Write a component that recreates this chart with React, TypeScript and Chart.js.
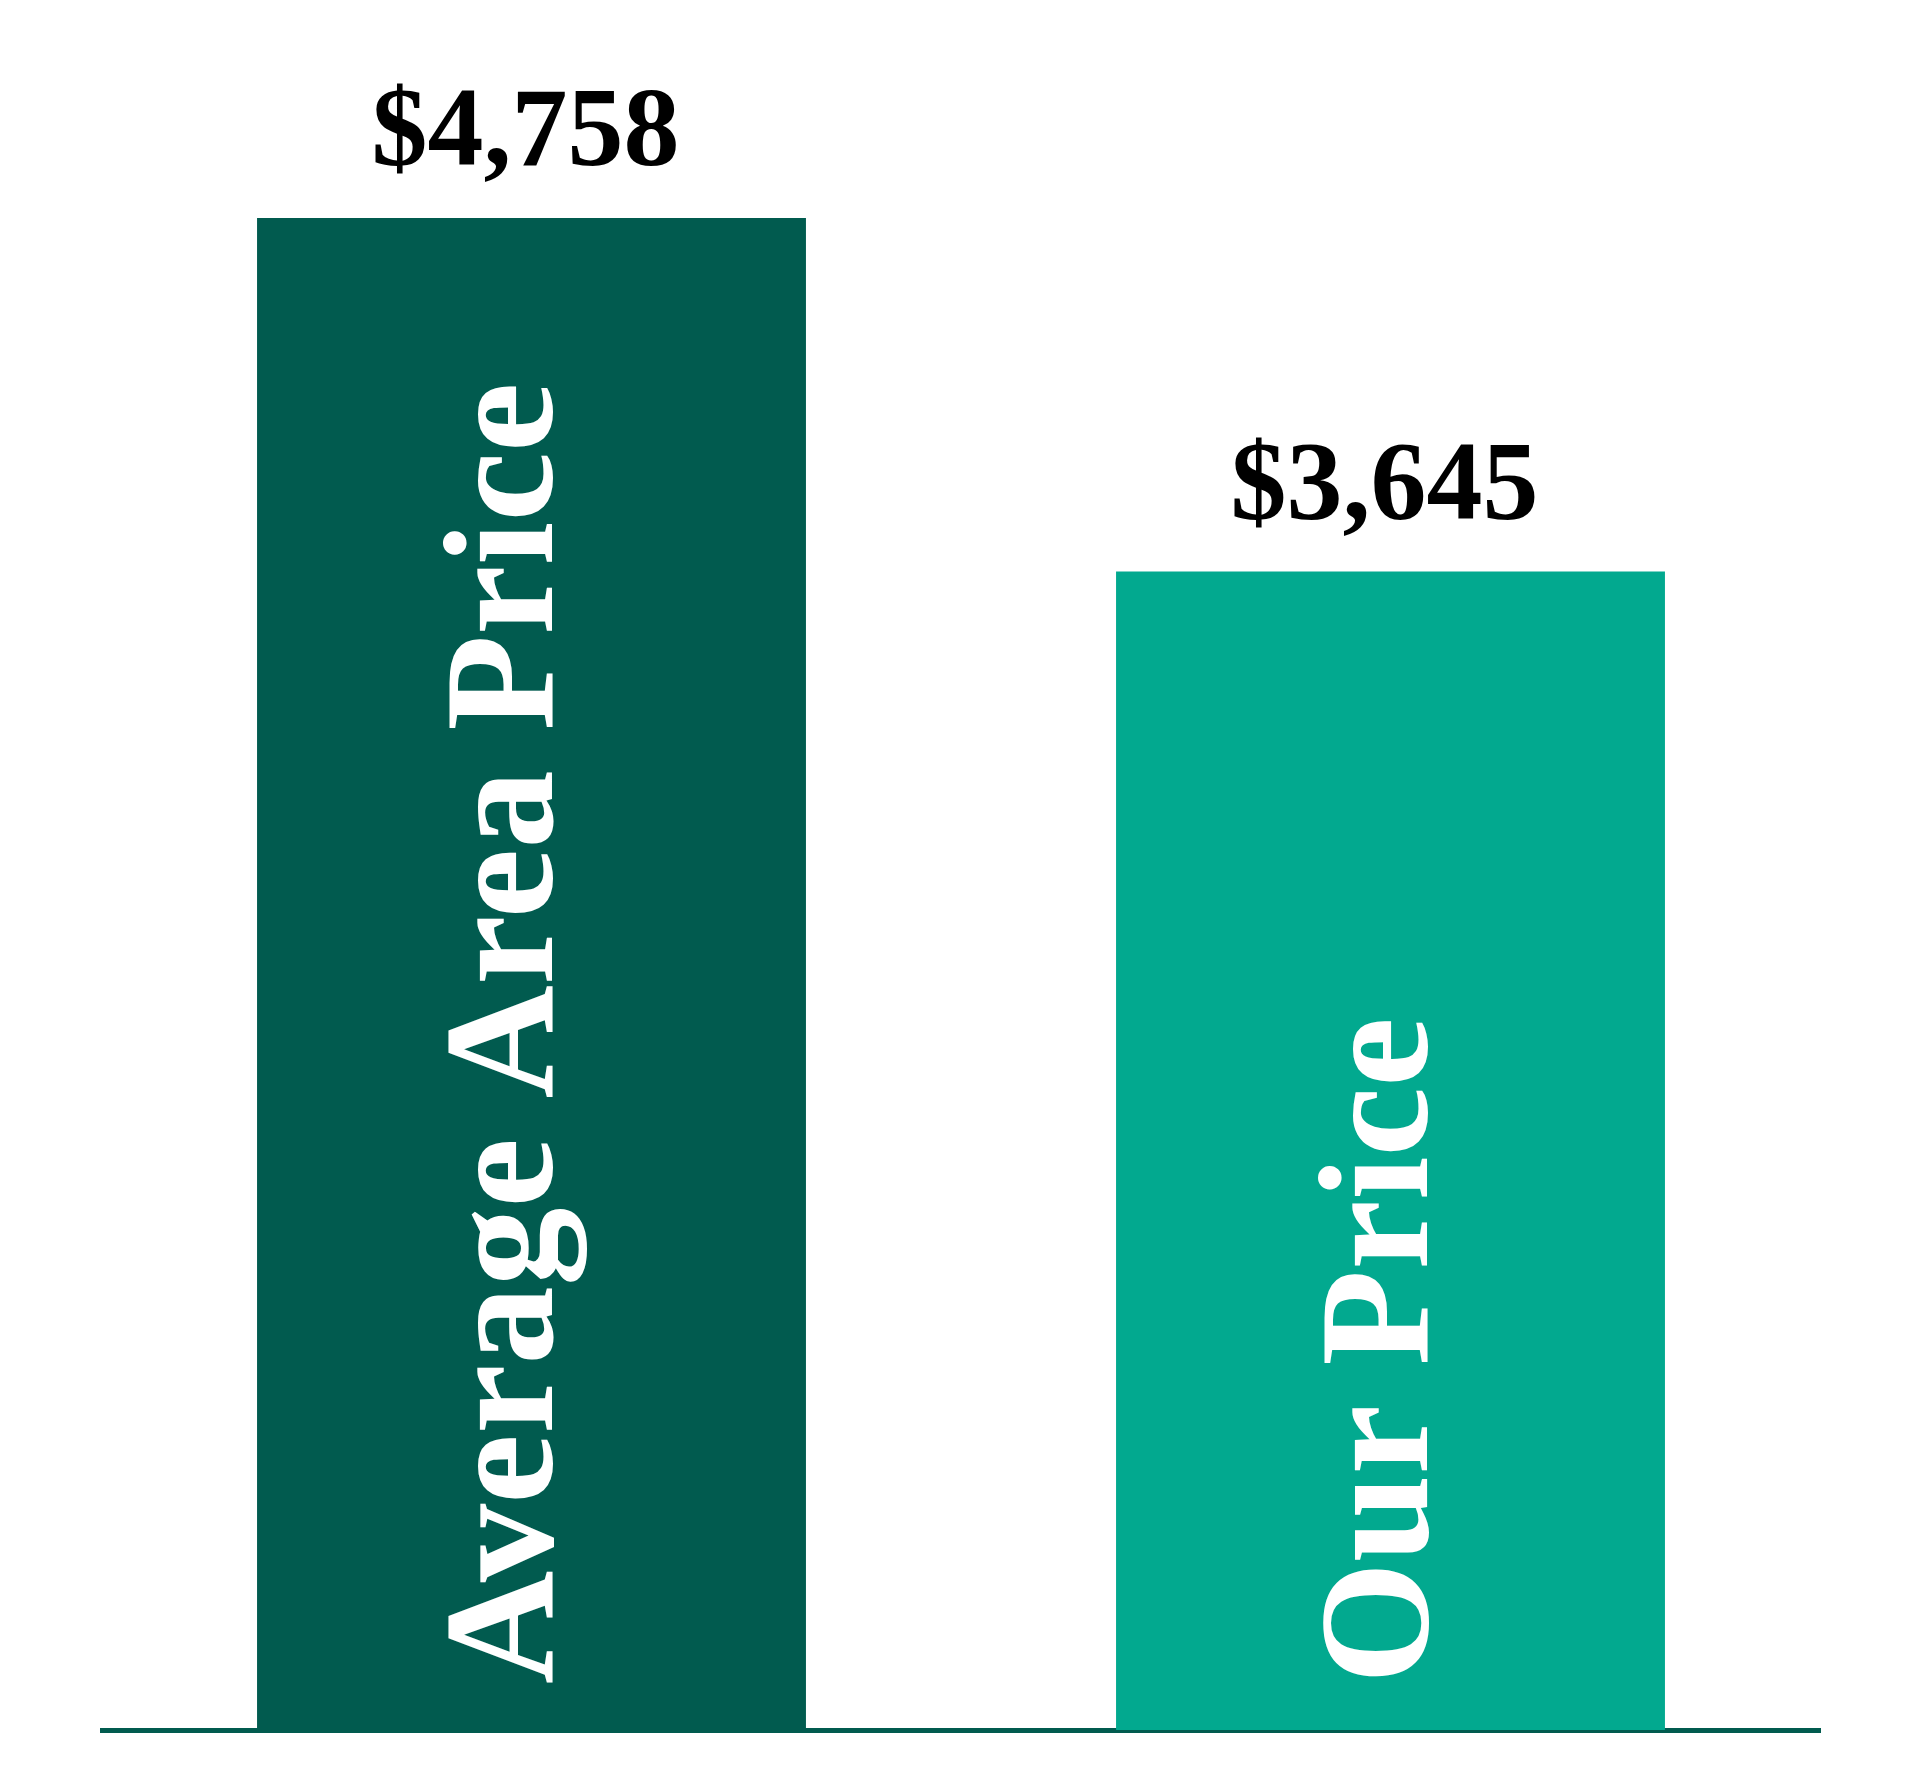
import { useEffect, useRef } from "react";
import { Chart, registerables, type Plugin } from "chart.js";

Chart.register(...registerables);

// ── Data ──────────────────────────────────────────────────────────────────────
const categories = ["Average Area Price", "Our Price"];
const prices = [4758, 3645];
const barColors = ["#015b4f", "#02a98f"];

const Y_MAX = 5000;
const SERIF = '"Liberation Serif", "DejaVu Serif", serif';

// ── Labels: value above each bar, category rotated inside it ─────────────────
const barLabels: Plugin<"bar"> = {
  id: "barLabels",
  afterDatasetsDraw(chart) {
    const { ctx } = chart;
    const meta = chart.getDatasetMeta(0);
    const values = chart.data.datasets[0].data as number[];
    const labels = chart.data.labels as string[];

    meta.data.forEach((el: any, i) => {
      const { x, y, base } = el.getProps(["x", "y", "base"], true);

      // price label
      ctx.save();
      ctx.fillStyle = "#000";
      ctx.font = `bold 112px ${SERIF}`;
      ctx.textAlign = "center";
      ctx.textBaseline = "alphabetic";
      ctx.fillText(`$${values[i].toLocaleString("en-US")}`, x - 6, y - 53);
      ctx.restore();

      // category label, reading bottom to top
      ctx.save();
      ctx.font = `bold 157px ${SERIF}`;
      const m = ctx.measureText(labels[i]);
      const shift = (m.actualBoundingBoxAscent - m.actualBoundingBoxDescent) / 2 - 17;
      ctx.translate(x + shift, base - 46);
      ctx.rotate(-Math.PI / 2);
      ctx.fillStyle = "#fff";
      ctx.textAlign = "left";
      ctx.textBaseline = "alphabetic";
      ctx.fillText(labels[i], 0, 0);
      ctx.restore();
    });
  },
};

export default function App() {
  const canvasRef = useRef<HTMLCanvasElement>(null);

  useEffect(() => {
    const canvas = canvasRef.current;
    if (!canvas) return;

    const chart = new Chart(canvas, {
      type: "bar",
      plugins: [barLabels],
      data: {
        labels: categories,
        datasets: [
          {
            data: prices,
            backgroundColor: barColors,
            borderWidth: 0,
            categoryPercentage: 1,
            barPercentage: 0.639,
          },
        ],
      },
      options: {
        responsive: false,
        animation: false,
        layout: { padding: { left: 102, right: 100, top: 141, bottom: 62 } },
        plugins: {
          legend: { display: false },
          tooltip: { enabled: false },
        },
        scales: {
          x: {
            grid: { display: false, drawTicks: false },
            ticks: { display: false },
            border: { display: true, color: "#015b4f", width: 5 },
          },
          y: {
            display: false,
            min: 0,
            max: Y_MAX,
          },
        },
      },
    });

    return () => chart.destroy();
  }, []);

  return (
    <div style={{ position: "absolute", left: 0, top: 0, width: 1920, height: 1792, background: "#fff" }}>
      <canvas ref={canvasRef} width={1920} height={1792} style={{ display: "block", width: 1920, height: 1792 }} />
    </div>
  );
}
